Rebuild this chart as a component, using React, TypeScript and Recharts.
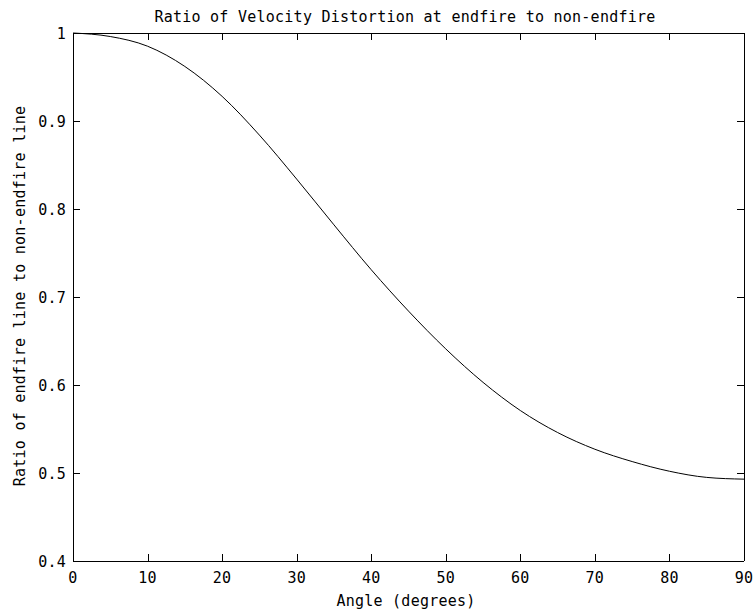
import React from "react";
import { LineChart, Line, XAxis, YAxis } from "recharts";

// Angle in degrees
const angles = [0, 5, 10, 15, 20, 25, 30, 35, 40, 45, 50, 55, 60, 65, 70, 75, 80, 85, 90];

// Ratio of endfire line to non-endfire line
const ratios = [
  1.0, 0.996, 0.985, 0.962, 0.928, 0.884, 0.834, 0.782, 0.731, 0.684, 0.641,
  0.603, 0.571, 0.546, 0.527, 0.513, 0.502, 0.495, 0.493,
];

const xTicks = [0, 10, 20, 30, 40, 50, 60, 70, 80, 90];
const yTicks = [0.4, 0.5, 0.6, 0.7, 0.8, 0.9, 1];

const titleText = "Ratio of Velocity Distortion at endfire to non-endfire";
const xLabelText = "Angle (degrees)";
const yLabelText = "Ratio of endfire line to non-endfire line";

const data = angles.map((a, i) => ({ angle: a, ratio: ratios[i] }));

const FONT = "'DejaVu Sans Mono', monospace";
const FS = 15;
const LS = 0.25;
const TICK_LEN = 7;

const fmtY = (v: number) => (v === 1 ? "1" : v.toFixed(1));

// Tick marks point into the box; the numbers sit outside it.
const BottomTick = (props: any) => {
  const { x, y, payload } = props;
  return (
    <g>
      <rect x={Math.round(x) - 0.5} y={y - TICK_LEN} width={1} height={TICK_LEN} fill="#000" shapeRendering="crispEdges" />
      <text x={x} y={y + 22} textAnchor="middle" fontFamily={FONT} fontSize={FS} letterSpacing={LS} fill="#000">
        {payload.value}
      </text>
    </g>
  );
};

const TopTick = (props: any) => {
  const { x, y } = props;
  return <rect x={Math.round(x) - 0.5} y={y} width={1} height={TICK_LEN} fill="#000" shapeRendering="crispEdges" />;
};

const LeftTick = (props: any) => {
  const { x, y, payload } = props;
  return (
    <g>
      <rect x={x} y={Math.round(y) - 0.5} width={TICK_LEN} height={1} fill="#000" shapeRendering="crispEdges" />
      <text x={x - 7} y={y + 6} textAnchor="end" fontFamily={FONT} fontSize={FS} letterSpacing={LS} fill="#000">
        {fmtY(payload.value)}
      </text>
    </g>
  );
};

const RightTick = (props: any) => {
  const { x, y } = props;
  return <rect x={x - TICK_LEN} y={Math.round(y) - 0.5} width={TICK_LEN} height={1} fill="#000" shapeRendering="crispEdges" />;
};

const axisCommon = {
  type: "number" as const,
  interval: 0 as const,
  axisLine: { stroke: "#000", shapeRendering: "crispEdges" },
  tickLine: false,
  tickSize: 0,
  tickMargin: 0,
};

export default function App() {
  return (
    <div style={{ position: "absolute", left: 0, top: 0, width: 753, height: 611, background: "#fff" }}>
      <LineChart
        width={753}
        height={611}
        data={data}
        margin={{ top: 32, right: 8, bottom: 10, left: 13 }}
      >
        <XAxis {...axisCommon} dataKey="angle" domain={[0, 90]} ticks={xTicks} height={40} tick={<BottomTick />} />
        <XAxis {...axisCommon} xAxisId="top" orientation="top" dataKey="angle" domain={[0, 90]} ticks={xTicks} height={1} tick={<TopTick />} />
        <YAxis {...axisCommon} domain={[0.4, 1]} ticks={yTicks} width={60} tick={<LeftTick />} />
        <YAxis {...axisCommon} yAxisId="right" orientation="right" domain={[0.4, 1]} ticks={yTicks} width={1} tick={<RightTick />} />
        <Line
          dataKey="ratio"
          type="monotone"
          stroke="#000"
          strokeWidth={1}
          dot={false}
          activeDot={false}
          isAnimationActive={false}
        />
        <Line
          xAxisId="top"
          yAxisId="right"
          dataKey="ratio"
          stroke="none"
          dot={false}
          activeDot={false}
          legendType="none"
          isAnimationActive={false}
        />
      </LineChart>
      <svg
        width={753}
        height={611}
        style={{ position: "absolute", left: 0, top: 0, pointerEvents: "none" }}
      >
        <text x={405} y={22} textAnchor="middle" fontFamily={FONT} fontSize={FS} letterSpacing={LS} fill="#000">
          {titleText}
        </text>
        <text x={406} y={606} textAnchor="middle" fontFamily={FONT} fontSize={FS} letterSpacing={LS} fill="#000">
          {xLabelText}
        </text>
        <text
          x={25}
          y={296}
          textAnchor="middle"
          transform="rotate(-90 25 296)"
          fontFamily={FONT}
          fontSize={FS}
          letterSpacing={LS}
          fill="#000"
        >
          {yLabelText}
        </text>
      </svg>
    </div>
  );
}
